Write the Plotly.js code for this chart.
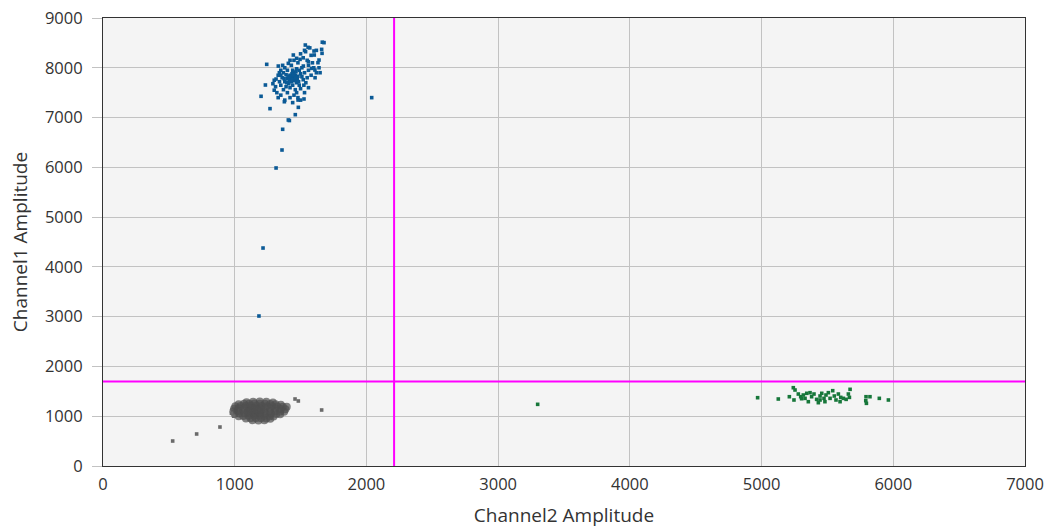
<!DOCTYPE html>
<html>
<head>
<meta charset="utf-8">
<script src="https://cdn.plot.ly/plotly-3.0.1.min.js"></script>
<style>html,body{margin:0;padding:0;background:#fff;}#chart{width:1049px;height:528px;}</style>
</head>
<body>
<div id="chart"></div>
<script>
// Channel1-positive cluster (blue)
const blueX = [1665,1678,1536,1557,1602,1660,1538,1663,1445,1604,1470,1496,1640,1632,1559,1243,1331,1364,1407,1521,
  1584,1609,1648,1339,1314,1233,1200,1268,1407,1415,1460,1483,1364,2040,1359,1314,1215,1184,1377,1526,1481,
  1440,1420,1460,1400,1480,1430,1450,1390,1470,1410,1500,1360,1520,1440,1380,1490,1350,1530,1420,1460,
  1400,1370,1340,1550,1510,1470,1430,1400,1370,1330,1560,1580,1540,1500,1450,1420,1480,1390,1310,1320,
  1350,1440,1460,1415,1445,1425,1455,1435,1405,1475,1465,1395,1485,1510,1375,1525,1600,1620,1590,1550,
  1520,1480,1450,1380,1350,1300,1290,1560,1530,1470,1500,1440,1380,1330,1300,1610,1640,1580,1620,1570,
  1530,1500,1420,1560,1490,1350,
  1432,1448,1438,1452,1428,1442,1418,1462,1436,1446];
const blueY = [8514,8505,8457,8410,8337,8370,8323,8290,8256,8256,8190,8169,8155,8102,8122,8069,8035,8049,8089,8035,
  7988,7955,7901,7901,7774,7654,7427,7179,6951,6940,7058,7205,6764,7400,6348,5987,4379,3013,7318,7373,7352,
  7800,7850,7760,7780,7830,7720,7900,7860,7700,7680,7880,7800,7760,7950,7720,7650,7650,7900,7600,7560,
  7500,7560,7720,7800,8000,7980,8050,7950,7900,7850,7950,7850,7700,7580,7450,7400,7400,7620,7620,7500,
  7450,7650,7850,7750,7740,7820,7820,7880,7830,7780,7920,7700,7720,7820,7780,7650,8000,7900,8100,8150,
  8200,8100,8150,8000,7950,7750,7680,7600,7500,7500,7350,7300,7350,7400,7550,7800,8000,8250,8350,8400,
  8350,8280,8150,8050,7950,7850,
  7790,7810,7770,7790,7800,7840,7790,7800,7760,7860];

// Channel2-positive cluster (green)
const greenX = [3300,4970,5127,5211,5241,5254,5246,5279,5297,5317,5330,5355,5368,5380,5398,5418,5431,5444,5457,5474,
  5489,5507,5520,5540,5552,5565,5583,5601,5621,5642,5659,5672,5667,5793,5791,5796,5823,5894,5963,5444,5343,5481,5596,5304];
const greenY = [1239,1372,1346,1392,1573,1527,1326,1446,1392,1426,1359,1292,1473,1392,1446,1339,1272,1406,1460,1359,
  1426,1473,1359,1513,1406,1326,1446,1379,1359,1339,1446,1540,1379,1392,1312,1259,1392,1359,1326,1326,1460,1292,1292,1352];

// Double-negative cluster (gray): dense core
const grayX = [1090,1140,1190,1240,1290,
  1030,1070,1110,1150,1190,1230,1270,1310,1350,
  1005,1045,1085,1125,1165,1205,1245,1285,1325,1365,1395,
  995,1030,1070,1110,1150,1190,1230,1270,1310,1350,1385,
  990,1025,1065,1105,1145,1185,1225,1265,1305,1345,1375,
  1000,1035,1075,1115,1155,1195,1235,1275,1315,1345,
  1030,1065,1105,1145,1185,1225,1265,1295,
  1085,1120,1160,1200,1240,1270,
  1135,1180,1225,
  1120,1140,1160,1180,1130,1150,1170,1190,1125,1165,1200,1100];
const grayY = [1280,1290,1295,1290,1275,
  1240,1250,1252,1255,1252,1250,1245,1240,1232,
  1200,1205,1208,1210,1208,1205,1202,1200,1196,1192,1188,
  1150,1158,1160,1162,1160,1158,1155,1152,1148,1145,1140,
  1100,1105,1108,1110,1108,1105,1102,1100,1096,1092,1088,
  1050,1055,1058,1060,1058,1055,1052,1048,1045,1040,
  1000,1005,1008,1010,1008,1005,1000,996,
  955,958,960,958,955,950,
  920,915,920,
  1120,1080,1140,1100,1160,1060,1120,1080,1100,1140,1130,1090];
// Double-negative cluster (gray): scattered droplets
const grayOutX = [529,711,888,975,992,1458,1483,1660];
const grayOutY = [502,643,783,1060,1000,1346,1306,1125];

const xTicks = [0,1000,2000,3000,4000,5000,6000,7000];
const yTicks = [0,1000,2000,3000,4000,5000,6000,7000,8000,9000];
const thresholdX = 2210;
const thresholdY = 1700;

const traces = [
  {x: grayX, y: grayY, type: 'scatter', mode: 'markers',
   marker: {color: 'rgba(80,80,80,0.7)', size: 8, symbol: 'circle', line: {width: 0}}, hoverinfo: 'x+y'},
  {x: grayOutX, y: grayOutY, type: 'scatter', mode: 'markers',
   marker: {color: '#6a6a6a', size: 3.6, symbol: 'square', line: {width: 0}}, hoverinfo: 'x+y'},
  {x: blueX, y: blueY, type: 'scatter', mode: 'markers',
   marker: {color: '#0b5a96', size: 3.6, symbol: 'square', line: {width: 0}}, hoverinfo: 'x+y'},
  {x: greenX, y: greenY, type: 'scatter', mode: 'markers',
   marker: {color: '#17773a', size: 3.6, symbol: 'square', line: {width: 0}}, hoverinfo: 'x+y'}
];

const font = '"Open Sans", "Noto Sans", sans-serif';
const layout = {
  width: 1049, height: 528,
  margin: {l: 103, r: 24, t: 18, b: 62},
  paper_bgcolor: '#ffffff',
  plot_bgcolor: '#f4f4f4',
  showlegend: false,
  font: {family: font, size: 16, color: '#333333'},
  xaxis: {
    range: [0, 7000], tickvals: xTicks, ticktext: xTicks.map(String),
    showgrid: true, gridcolor: '#c2c2c2', gridwidth: 1,
    zeroline: false, showline: true, linecolor: '#333333', linewidth: 1, mirror: true,
    ticks: '', ticklen: 0, ticklabelstandoff: 3,
    tickfont: {family: font, size: 16.5, color: '#333333'},
    title: {text: 'Channel2 Amplitude', font: {family: font, size: 19, color: '#333333'}, standoff: 17}
  },
  yaxis: {
    range: [0, 9000], tickvals: yTicks, ticktext: yTicks.map(String),
    showgrid: true, gridcolor: '#c2c2c2', gridwidth: 1,
    zeroline: false, showline: true, linecolor: '#333333', linewidth: 1, mirror: true,
    ticks: 'outside', ticklen: 10, tickcolor: '#c2c2c2', ticklabelstandoff: 6,
    tickfont: {family: font, size: 16.5, color: '#333333'},
    title: {text: 'Channel1 Amplitude', font: {family: font, size: 19, color: '#333333'}, standoff: 12}
  },
  shapes: [
    {type: 'line', xref: 'x', yref: 'paper', x0: thresholdX, x1: thresholdX, y0: 0, y1: 1,
     line: {color: '#ff00ff', width: 2}},
    {type: 'line', xref: 'paper', yref: 'y', x0: 0, x1: 1, y0: thresholdY, y1: thresholdY,
     line: {color: '#ff00ff', width: 2}}
  ]
};

Plotly.newPlot('chart', traces, layout, {displayModeBar: false, staticPlot: true});
</script>
</body>
</html>
